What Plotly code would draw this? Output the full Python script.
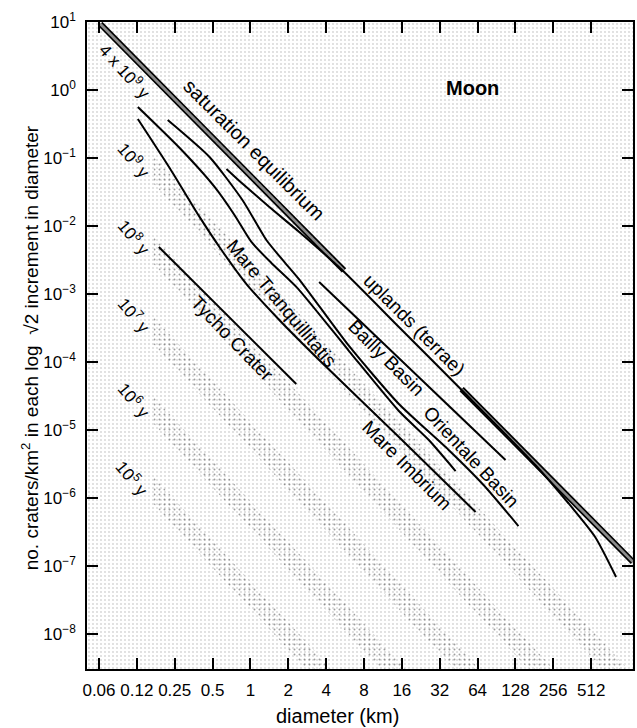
import math
import plotly.graph_objects as go

# ---------------- data (diameter D in km, N = craters/km^2 per sqrt2 bin) ----------------
x_tick_vals = [0.0625, 0.125, 0.25, 0.5, 1, 2, 4, 8, 16, 32, 64, 128, 256, 512]
x_tick_text = ["0.06", "0.12", "0.25", "0.5", "1", "2", "4", "8", "16", "32", "64", "128", "256", "512"]
y_tick_exp = [1, 0, -1, -2, -3, -4, -5, -6, -7, -8]

# saturation equilibrium (thick band, interrupted where the uplands curve lies on it)
sat_D = [0.064, 5.55, None, 47.8, 1100]
sat_N = [9.35, 2.22e-3, None, 4.0e-5, 1.15e-7]

uplands_D = [0.645, 0.818, 1.414, 2.445, 5.36, 15.15, 47.8, 184.3, 336.6, 550.7, 807.9]
uplands_N = [0.0689, 0.0459, 0.0190, 8.16e-3, 2.25e-3, 3.27e-4, 3.87e-5, 3.06e-6, 8.44e-7, 2.67e-7, 6.89e-8]

bailly_D = [3.52, 106.7]
bailly_N = [1.50e-3, 3.62e-6]

tycho_D = [0.187, 2.315]
tycho_N = [4.91e-3, 4.75e-5]

tranq_D = [0.1273, 0.274, 0.519, 0.747, 1.018, 1.467, 2.357, 6.08, 15.15, 26.2, 42.8]
tranq_N = [0.562, 0.140, 0.0375, 0.0145, 5.82e-3, 2.86e-3, 1.23e-3, 1.45e-4, 1.90e-5, 7.13e-6, 2.49e-6]

imbrium_D = [0.1273, 0.228, 0.394, 0.589, 0.930, 1.697, 3.52, 15.15, 61.7]
imbrium_N = [0.375, 0.0713, 0.0136, 4.44e-3, 1.40e-3, 4.15e-4, 1.07e-4, 7.89e-6, 6.22e-7]

orientale_D = [0.220, 0.473, 0.864, 1.339, 1.859, 2.535, 6.08, 15.15, 37.7, 71.4, 135.2]
orientale_N = [0.362, 0.1035, 0.0241, 6.22e-3, 2.96e-3, 1.50e-3, 1.72e-4, 2.41e-5, 5.08e-6, 1.55e-6, 3.87e-7]

# isochron bands (centre line end points)
iso_labels = ["10<sup>5</sup> y", "10<sup>6</sup> y", "10<sup>7</sup> y", "10<sup>8</sup> y", "10<sup>9</sup> y"]
iso_D0 = [0.17, 0.17, 0.17, 0.17, 0.17]
iso_N0 = [1.29e-6, 1.95e-5, 2.89e-4, 4.38e-3, 0.0662]
iso_D1 = [4.85, 18.9, 72.6, 282, 1100]
iso_N1 = [1.6e-9, 1.6e-9, 1.6e-9, 1.6e-9, 1.6e-9]
iso_label_D = [0.1162, 0.1206, 0.1206, 0.1206, 0.1206]
iso_label_N = [1.97e-6, 2.76e-5, 4.91e-4, 6.89e-3, 0.0935]

# curve labels: text, D, N, angle, size
curve_labels = [
    ("saturation equilibrium", 1.076, 0.131, 45, 20),
    ("4 x 10<sup>9</sup> y", 0.1022, 1.90, 48, 17),
    ("Mare Tranquillitatis", 1.78, 7.3e-4, 50, 19),
    ("Tycho Crater", 0.720, 2.25e-4, 46, 19),
    ("uplands (terrae)", 19.9, 3.50e-4, 45, 19),
    ("Bailly Basin", 11.9, 1.15e-4, 45, 19),
    ("Orientale Basin", 56.3, 4.01e-6, 47, 19),
    ("Mare Imbrium", 17.53, 2.96e-6, 45, 19),
]

# ---------------- figure ----------------
FONT = "Liberation Sans, Arial, Helvetica, sans-serif"
x_range = [-1.2993, 3.0419]
y_range = [-8.515, 1.0]

fig = go.Figure()

# stippled background
bx = [10 ** (x_range[0] - 0.2), 10 ** (x_range[1] + 0.2), 10 ** (x_range[1] + 0.2), 10 ** (x_range[0] - 0.2)]
by = [10 ** (y_range[1] + 0.2), 10 ** (y_range[1] + 0.2), 10 ** (y_range[0] - 0.2), 10 ** (y_range[0] - 0.2)]
fig.add_trace(go.Scatter(
    x=bx, y=by, fill="toself", mode="none", hoverinfo="skip",
    fillcolor="white",
    fillpattern=dict(shape=".", fgcolor="#a8a8a8", bgcolor="white", size=4, solidity=0.16),
))

# isochron bands
hw = 0.2
for d0, n0, d1, n1 in zip(iso_D0, iso_N0, iso_D1, iso_N1):
    px = [d0, d1, d1, d0]
    py = [n0 * 10 ** hw, n1 * 10 ** hw, n1 * 10 ** -hw, n0 * 10 ** -hw]
    fig.add_trace(go.Scatter(
        x=px, y=py, fill="toself", mode="none", hoverinfo="skip",
        fillcolor="rgba(0,0,0,0)",
        fillpattern=dict(shape=".", fgcolor="#404040", bgcolor="rgba(0,0,0,0)", size=5, solidity=0.12),
    ))

# saturation band
fig.add_trace(go.Scatter(x=sat_D, y=sat_N, mode="lines", line=dict(color="black", width=6),
                         hoverinfo="skip", connectgaps=False))
fig.add_trace(go.Scatter(x=sat_D, y=sat_N, mode="lines", line=dict(color="#8c8c8c", width=2.6),
                         hoverinfo="skip", connectgaps=False))

for xs, ys in [(uplands_D, uplands_N), (bailly_D, bailly_N), (tycho_D, tycho_N),
               (tranq_D, tranq_N), (imbrium_D, imbrium_N), (orientale_D, orientale_N)]:
    fig.add_trace(go.Scatter(x=xs, y=ys, mode="lines",
                             line=dict(color="black", width=2, shape="spline", smoothing=0.6),
                             hoverinfo="skip"))

annotations = []
for txt, d, n, ang, sz in curve_labels:
    annotations.append(dict(x=math.log10(d), y=math.log10(n), xref="x", yref="y", text=txt,
                            textangle=ang, showarrow=False, font=dict(size=sz, color="black", family=FONT)))
for txt, d, n in zip(iso_labels, iso_label_D, iso_label_N):
    annotations.append(dict(x=math.log10(d), y=math.log10(n), xref="x", yref="y", text=txt,
                            textangle=50, showarrow=False, font=dict(size=17, color="black", family=FONT)))
annotations.append(dict(x=math.log10(58.4), y=math.log10(1.07), xref="x", yref="y", text="<b>Moon</b>",
                        showarrow=False, font=dict(size=20, color="black", family=FONT)))
# axis titles
annotations.append(dict(x=-0.104, y=0.496, xref="paper", yref="paper", textangle=-90, showarrow=False,
                        xanchor="center", yanchor="middle",
                        text="no. craters/km<sup>2</sup> in each log  √2 increment in diameter",
                        font=dict(size=19, color="black", family=FONT)))
annotations.append(dict(x=0.458, y=-0.0726, xref="paper", yref="paper", showarrow=False,
                        xanchor="center", yanchor="middle",
                        text="diameter (km)", font=dict(size=20, color="black", family=FONT)))

fig.update_layout(
    width=637, height=728,
    margin=dict(l=87, r=2, t=22, b=59),
    plot_bgcolor="white", paper_bgcolor="white",
    showlegend=False,
    font=dict(family=FONT, color="black", size=17),
    annotations=annotations,
)
fig.update_xaxes(
    type="log", range=x_range, tickvals=x_tick_vals, ticktext=x_tick_text,
    ticks="inside", ticklen=11, tickwidth=1.5, tickcolor="black",
    showline=True, linecolor="black", linewidth=1.5, mirror="ticks",
    showgrid=False, zeroline=False, ticklabelstandoff=5,
    tickfont=dict(size=17, family=FONT, color="black"),
)
fig.update_yaxes(
    type="log", range=y_range, tickvals=[10 ** e for e in y_tick_exp],
    ticktext=["10<sup>%s</sup>" % (str(e).replace("-", "\u2212")) for e in y_tick_exp],
    ticks="inside", ticklen=11, tickwidth=1.5, tickcolor="black",
    showline=True, linecolor="black", linewidth=1.5, mirror="ticks",
    showgrid=False, zeroline=False, ticklabelstandoff=6,
    tickfont=dict(size=17, family=FONT, color="black"),
)

fig.write_html("out.html")
